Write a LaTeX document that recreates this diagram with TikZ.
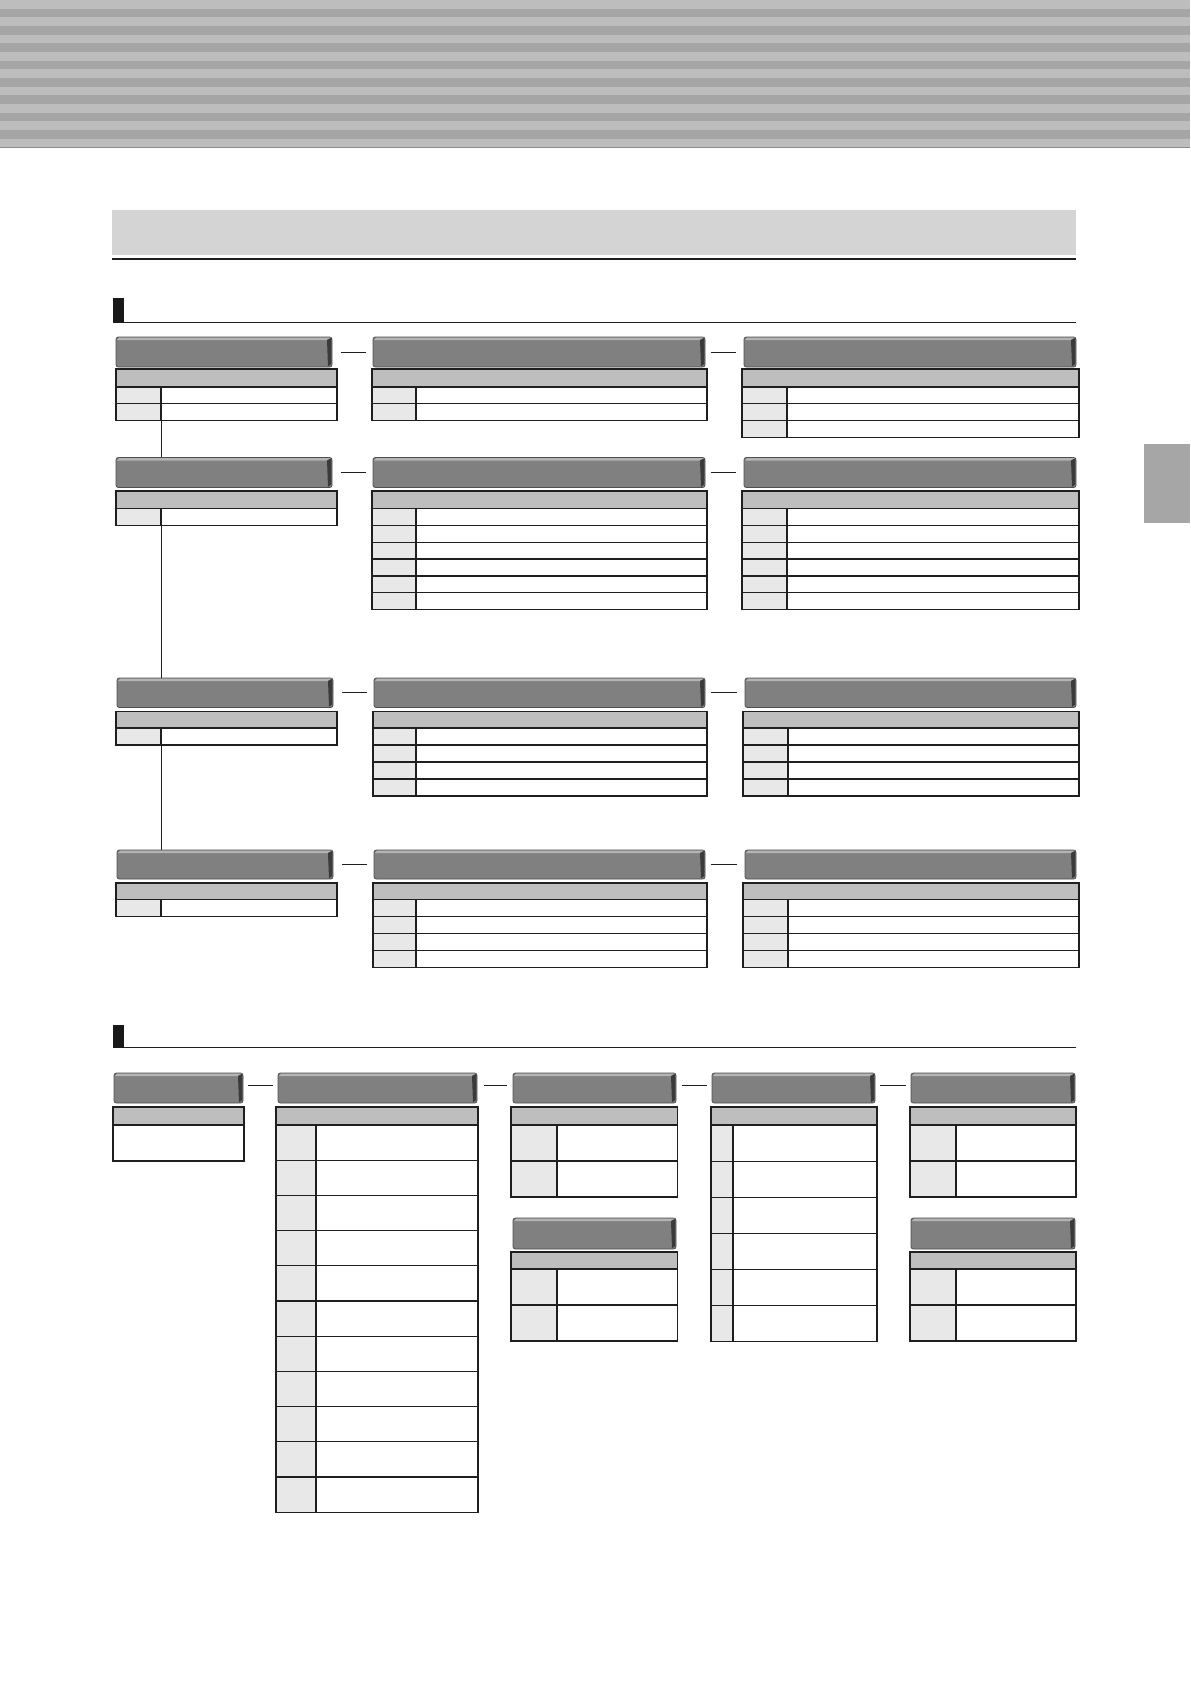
\documentclass[tikz,border=0pt]{standalone}
\usetikzlibrary{fit,calc}
\definecolor{stripeL}{HTML}{BDBDBD}
\definecolor{stripeD}{HTML}{A5A5A5}
\definecolor{titlebar}{HTML}{D4D4D4}
\definecolor{hdrfill}{HTML}{808080}
\definecolor{hdrtop}{HTML}{B4B4B4}
\definecolor{hdrdark}{HTML}{3A3A3A}
\definecolor{hdredge}{HTML}{4F4F4F}
\definecolor{graycell}{HTML}{BEBEBE}
\definecolor{colcell}{HTML}{E8E8E8}
\definecolor{tabfill}{HTML}{A6A6A6}
\tikzset{
  tline/.style={draw=black!88, line width=0.6pt},
  conn/.style={draw=black!88, line width=0.45pt},
  rulel/.style={draw=black!88, line width=0.65pt},
  rules/.style={draw=black!88, line width=0.5pt},
  marker/.style={fill=black!90}
}
\newcommand{\hdrbar}[5]{%
  \fill[hdrfill,draw=hdredge,line width=0.4pt,rounded corners=1.2pt] (#2,#3) rectangle (#4,#5);
  \fill[hdrtop] ({#2+1},{#3+3}) -- ({#2+3},{#3+0.7}) -- ({#4-1},{#3+0.7}) -- ({#4-5},{#3+3}) -- cycle;
  \fill[hdrdark] ({#4-5},{#3+3}) -- ({#4-0.7},{#3+0.7}) -- ({#4-0.7},{#5-3}) -- ({#4-4},{#5-0.7}) -- cycle;
  \node[fit={(#2,#3)(#4,#5)},inner sep=0pt] (#1) {};
}
\newcommand{\tablebox}[8]{%
  \pgfmathsetmacro{\tbot}{#6+#7*#8}
  \fill[graycell] (#2,#5) rectangle (#4,#6);
  \fill[colcell] (#2,#6) rectangle (#3,\tbot);
  \foreach \k in {1,...,#8}{\draw[tline] (#2,{#6+#7*\k}) -- (#4,{#6+#7*\k});}
  \draw[tline] (#2,#5) rectangle (#4,\tbot);
  \draw[tline] (#2,#6) -- (#4,#6);
  \draw[tline] (#3,#6) -- (#3,\tbot);
  \node[fit={(#2,#5)(#4,\tbot)},inner sep=0pt] (#1) {};
  \coordinate (#1-col) at (#3,\tbot);
}
\begin{document}
\begin{tikzpicture}[x=0.5pt,y=-0.5pt]
\useasboundingbox (0,0) rectangle (1190,1682);
% top stripes
\fill[stripeL] (0,0) rectangle (1190,147.5);
\foreach \i in {1,3,...,15}{\fill[stripeD] (0,{\i*8.676}) rectangle (1190,{(\i+1)*8.676});}
\draw[draw=stripeD!85!black,line width=0.4pt] (0,147.5) -- (1190,147.5);
% title bar
\fill[titlebar] (112,210) rectangle (1076,255);
\draw[rulel] (112,259) -- (1076,259);
% side tab
\fill[tabfill] (1144,444) rectangle (1190,523);
% section 1 heading
\fill[marker] (113,298) rectangle (124,323);
\draw[rules] (124,322.5) -- (1076,322.5);
% row 1
\hdrbar{h11}{116}{337}{332}{367}
\tablebox{t11}{116}{161}{337}{369}{387}{16.6}{2}
\hdrbar{h12}{373}{337}{705}{367}
\tablebox{t12}{372}{416}{707}{369}{387}{16.6}{2}
\hdrbar{h13}{744}{337}{1076}{367}
\tablebox{t13}{742}{787}{1079}{369}{387}{16.7}{3}
% row 2
\hdrbar{h21}{116}{457.5}{332}{487.5}
\tablebox{t21}{116}{161}{337}{491}{508.3}{16.8}{1}
\hdrbar{h22}{373}{457.5}{705}{487.5}
\tablebox{t22}{372}{416}{707}{491}{508.3}{16.9}{6}
\hdrbar{h23}{744}{457.5}{1076}{487.5}
\tablebox{t23}{742}{787}{1079}{491}{508.3}{16.9}{6}
% row 3
\hdrbar{h31}{117}{678}{333}{707.5}
\tablebox{t31}{116}{161}{337}{711.5}{728}{17}{1}
\hdrbar{h32}{374}{678}{705}{707.5}
\tablebox{t32}{373}{416}{707}{711.5}{728}{17}{4}
\hdrbar{h33}{745}{678}{1076}{707.5}
\tablebox{t33}{743}{788}{1079}{711.5}{728}{17}{4}
% row 4
\hdrbar{h41}{117}{850}{333}{879}
\tablebox{t41}{116}{161}{337}{883}{899.5}{17}{1}
\hdrbar{h42}{374}{850}{705}{879}
\tablebox{t42}{373}{416}{707}{883}{899.5}{17}{4}
\hdrbar{h43}{745}{850}{1076}{879}
\tablebox{t43}{743}{788}{1079}{883}{899.5}{17}{4}
% connectors section 1
\draw[conn] (t11-col) -- (t11-col |- h21.north);
\draw[conn] (t21-col) -- (t21-col |- h31.north);
\draw[conn] (t31-col) -- (t31-col |- h41.north);
\foreach \r in {1,2,3,4}{
  \draw[conn] ($(h\r1.east)+(9,0)$) -- ($(h\r2.west)+(-7,0)$);
  \draw[conn] ($(h\r2.east)+(6,0)$) -- ($(h\r3.west)+(-8,0)$);
}
% section 2 heading
\fill[marker] (113,1025) rectangle (124,1047.5);
\draw[rules] (124,1047) -- (1076,1047);
% section 2 boxes
\hdrbar{hA}{114}{1073}{243}{1103}
\tablebox{tA}{113}{113}{244}{1107}{1125}{36}{1}
\hdrbar{hB}{278}{1073}{477}{1103}
\tablebox{tB}{276}{316}{478}{1107}{1125}{35.2}{11}
\hdrbar{hC}{513}{1073}{676}{1103}
\tablebox{tC}{511}{557}{677.5}{1107}{1125}{36}{2}
\hdrbar{hCb}{513}{1218}{676}{1249}
\tablebox{tCb}{511}{557}{677.5}{1252}{1269}{36}{2}
\hdrbar{hD}{712}{1073}{875}{1103}
\tablebox{tD}{711}{733}{877}{1107}{1125}{36.1}{6}
\hdrbar{hE}{911}{1073}{1075}{1103}
\tablebox{tE}{910}{956}{1076}{1107}{1125}{36}{2}
\hdrbar{hEb}{911}{1218}{1075}{1249}
\tablebox{tEb}{910}{956}{1076}{1252}{1269}{36}{2}
% connectors section 2
\draw[conn] ($(hA.east)+(5,-3)$) -- ($(hB.west)+(-5,-3)$);
\draw[conn] ($(hB.east)+(7,-3)$) -- ($(hC.west)+(-5.5,-3)$);
\draw[conn] ($(hC.east)+(6,-3)$) -- ($(hD.west)+(-5,-3)$);
\draw[conn] ($(hD.east)+(5,-3)$) -- ($(hE.west)+(-5,-3)$);
\end{tikzpicture}
\end{document}
